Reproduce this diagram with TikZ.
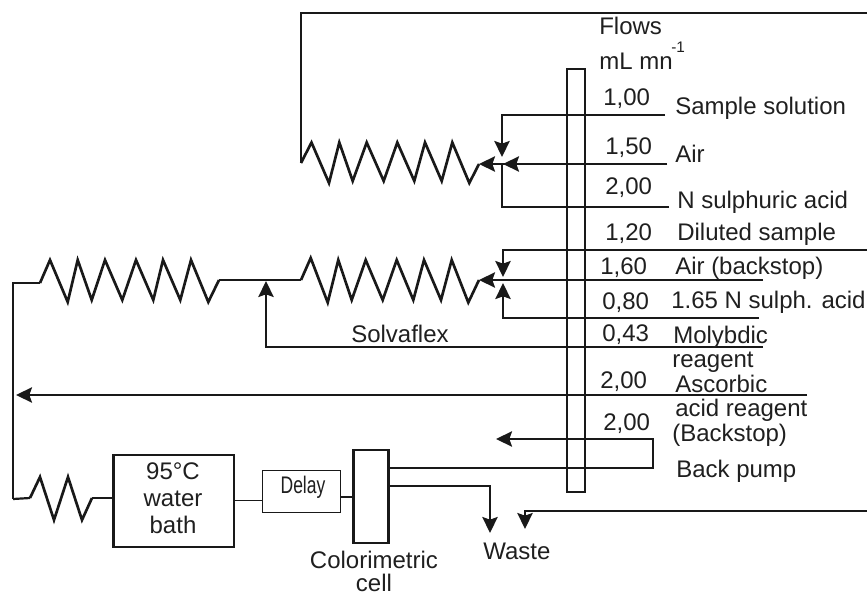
\documentclass[tikz,border=0pt]{standalone}
\usepackage{fontspec}
\setmainfont{Liberation Sans}
\usetikzlibrary{arrows.meta}
\tikzset{
  tube/.style={line width=1.65pt,draw=black!90,line join=miter},
  coil/.style={line width=2pt,draw=black!90,line join=miter},
  thin tube/.style={line width=.75pt,draw=black!90},
  flow/.style={tube,-{Stealth[length=12pt,width=11.5pt,inset=2pt]}},
  boxed/.style={draw=black!90,line width=1.65pt,minimum width=#1,inner sep=0pt,fill=white},
  lab/.style={anchor=base west,inner sep=0pt,text=black!88,font=\fontsize{18}{20}\selectfont},
  mid/.style={anchor=base,inner sep=0pt,text=black!88,font=\fontsize{18}{20}\selectfont},
}
\begin{document}
\begin{tikzpicture}[x=.75pt,y=-.75pt]
\useasboundingbox (0,0) rectangle (867,595);
% tube holder
\node[boxed=13.5pt,minimum height=317.25pt] (holder) at (576,280.25) {};
% boxes
\node[boxed=90.5pt,minimum height=69pt,fill=none] (bath) at (173.75,501) {};
\node[draw=black!90,line width=.75pt,minimum width=58.5pt,minimum height=31.5pt,inner sep=0pt] (delay) at (301.75,491) {};
\node[boxed=26.25pt,minimum height=69.75pt] (cell) at (371,496.5) {};
% named ends
\coordinate (top) at (867,13);
\coordinate (coilA) at (301,163);
\coordinate (coilAend) at (479,164);
\coordinate (jA) at (502,164);
\coordinate (airA) at (667,164);
\coordinate (sampleEnd) at (665,115);
\coordinate (acidEnd) at (669,207);
\coordinate (coilB) at (301,280);
\coordinate (coilBend) at (479,280);
\coordinate (airB) at (763,280);
\coordinate (dilEnd) at (867,250);
\coordinate (sulphEnd) at (759,318);
\coordinate (molyEnd) at (763,347);
\coordinate (ascEnd) at (807,395);
\coordinate (coilC) at (219,280);
\coordinate (leftTop) at (13,283);
\coordinate (leftBot) at (13,499);
\coordinate (coilEnd) at (92,498);
\coordinate (wasteEnd) at (867,511);
% top coil
\draw[tube] (top) -- (301,13) -- (coilA);
\draw[coil] (coilA) -- (311.5,142.5) -- (329,183) -- (339.3,142.5) -- (352.7,181) -- (366.7,142.5) -- (383.7,181) -- (397.3,142.5) -- (414.3,181) -- (425,142.5) -- (441.7,181) -- (452.3,142.5) -- (469.3,183) -- (coilAend);
\draw[flow] (airA) -- (coilAend);
\draw[flow] (airA) -- (503,164);
\draw[flow] (sampleEnd) -- (502,115) -- (502,157);
\draw[tube] (acidEnd) -- (502,207) -- (jA);
% middle coil
\draw[tube] (coilC) -- (coilB);
\draw[coil] (coilB) -- (310.7,258) -- (327.7,302.5) -- (338.3,260) -- (351.7,300) -- (365.7,260) -- (382.7,300) -- (396.7,260) -- (413.3,300) -- (424,260) -- (441,300) -- (451.7,260) -- (468.3,302.5) -- (coilBend);
\draw[flow] (airB) -- (coilBend);
\draw[flow] (dilEnd) -- (503,250) -- (503,277);
\draw[flow] (sulphEnd) -- (503,318) -- (503,283);
% left coil
\draw[tube] (leftBot) -- (leftTop) -- (40,283);
\draw[coil] (40,283) -- (50,260) -- (67.7,302) -- (77.7,260) -- (91.7,300) -- (105,260) -- (122.3,300) -- (136,260) -- (153.3,300) -- (163,260) -- (180.3,300) -- (191,260) -- (208.3,302) -- (coilC);
\draw[flow] (molyEnd) -- (266,347) -- (266,281);
\draw[flow] (ascEnd) -- (16,395);
% bottom line
\draw[tube] (leftBot) -- (30,498);
\draw[coil] (30,498) -- (40,477) -- (54,520) -- (68,477) -- (82,520) -- (coilEnd);
\draw[tube] (coilEnd) -- (bath.west |- coilEnd);
\draw[thin tube] (bath.east |- 0,500) -- (delay.west |- 0,500);
\draw[tube] (delay.east |- 0,497) -- (cell.west |- 0,497);
\draw[flow] (cell.east |- 0,468) -- (653,468) -- (653,439) -- (496,439);
\draw[flow] (cell.east |- 0,486) -- (490,486) -- (490,533);
\draw[flow] (wasteEnd) -- (525,511) -- (525,529);
% labels
\node[lab] (flows) at (599,35) {Flows};
\node[lab] (units) at (599,70) {mL mn};
\node[anchor=base west,inner sep=0pt,text=black!88,font=\fontsize{11.5}{12}\selectfont] (unitexp) at (671,53) {-1};
\node[lab] (f1) at (603,106) {1,00};
\node[lab] (n1) at (675,115) {Sample solution};
\node[lab] (f2) at (605,155) {1,50};
\node[lab] (n2) at (675,163) {Air};
\node[lab] (f3) at (605,195) {2,00};
\node[lab] (n3) at (677,209) {N sulphuric acid};
\node[lab] (f4) at (605,241) {1,20};
\node[lab] (n4) at (677,241) {Diluted sample};
\node[lab] (f5) at (600,275) {1,60};
\node[lab] (n5) at (675,275) {Air (backstop)};
\node[lab] (f6) at (602,310) {0,80};
\node[lab] (n6) at (671,308) {1.65 N sulph. acid};
\node[lab] (f7) at (602,341) {0,43};
\node[lab] (n7) at (673,343) {Molybdic};
\node[lab] (n7b) at (672,367) {reagent};
\node[lab] (f8) at (600,388) {2,00};
\node[lab] (n8) at (675,392) {Ascorbic};
\node[lab] (n8b) at (675,416) {acid reagent};
\node[lab] (f9) at (603,430) {2,00};
\node[lab] (n8c) at (672,441) {(Backstop)};
\node[lab] (n9) at (676,477) {Back pump};
\node[lab] (waste) at (483,559) {Waste};
\node[lab] (solva) at (351,342) {Solvaflex};
\node[mid] (cola) at (374,568) {Colorimetric};
\node[mid] (colb) at (374,591.5) {cell};
\node[mid] (b1) at (173,479) {95°C};
\node[mid] (b2) at (173,506) {water};
\node[mid] (b3) at (173,533) {bath};
\node[mid,xscale=.73] (dl) at (303,493) {Delay};
\end{tikzpicture}
\end{document}
